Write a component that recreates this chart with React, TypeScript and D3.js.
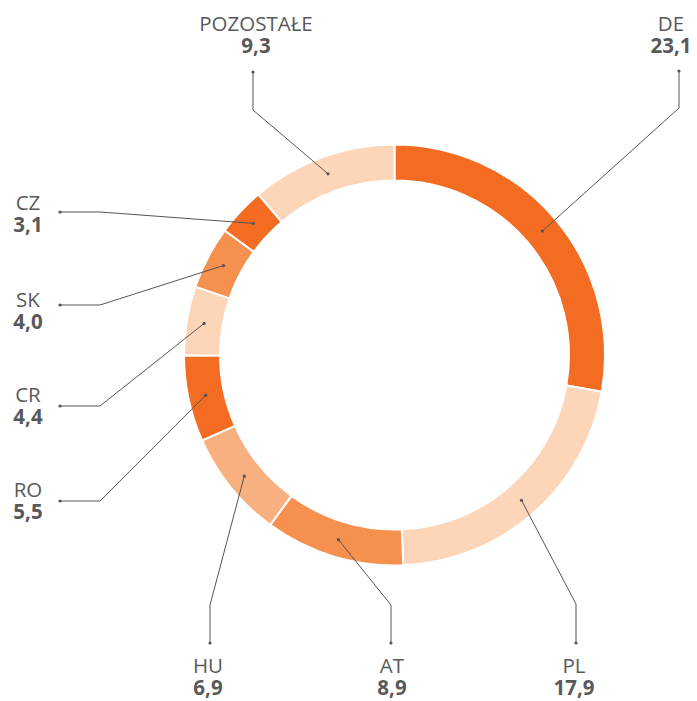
import React from "react";
import * as d3 from "d3";

// Share by country
const countries = ["DE", "PL", "AT", "HU", "RO", "CR", "SK", "CZ", "POZOSTAŁE"];
const shares = [23.1, 17.9, 8.9, 6.9, 5.5, 4.4, 4.0, 3.1, 9.3];
const sliceColors = ["#F36C21", "#FDD5B8", "#F5904F", "#F8B080", "#F36C21", "#FDD5B8", "#F5904F", "#F36C21", "#FDD5B8"];

// Label placement: leader end point, elbow point, and text centre x / name baseline
const labelEnds: [number, number][] = [[679, 71], [576, 643], [391, 643], [210, 643], [60, 501], [60, 406], [60, 305], [60, 212], [253, 72]];
const labelElbows: [number, number][] = [[679, 108], [576, 604], [391, 605], [210, 605], [100, 501], [100, 406], [100, 305], [100, 212], [253, 110]];
const labelText: [number, number][] = [[671, 31], [574, 673], [392, 673], [208, 673], [28, 497], [28, 402], [28, 307], [28, 210], [256, 31]];

const W = 697;
const H = 701;
const cx = 394.5;
const cy = 355;
const outerR = 210.5;
const innerR = 174.5;

const fmt = (v: number) => v.toFixed(1).replace(".", ",");

export default function App() {
  const pie = d3
    .pie<number>()
    .value((d) => d)
    .sort(null);
  const arcs = pie(shares);
  const arc = d3.arc<d3.PieArcDatum<number>>().innerRadius(innerR).outerRadius(outerR);
  const mid = d3.arc<d3.PieArcDatum<number>>().innerRadius(193).outerRadius(193);

  return (
    <svg
      width={W}
      height={H}
      style={{ position: "absolute", left: 0, top: 0, background: "#fff" }}
      fontFamily="'Open Sans', sans-serif"
    >
      <g transform={`translate(${cx},${cy})`}>
        {arcs.map((a, i) => (
          <path key={i} d={arc(a) ?? ""} fill={sliceColors[i]} stroke="#fff" strokeWidth={2} />
        ))}
      </g>
      {arcs.map((a, i) => {
        const [mx, my] = mid.centroid(a);
        const p0: [number, number] = [cx + mx, cy + my];
        const line = d3.line()([p0, labelElbows[i], labelEnds[i]]);
        return (
          <g key={`l${i}`}>
            <path d={line ?? ""} fill="none" stroke="#555" strokeWidth={1} />
            <circle cx={p0[0]} cy={p0[1]} r={1.6} fill="#555" />
            <circle cx={labelEnds[i][0]} cy={labelEnds[i][1]} r={1.6} fill="#555" />
            <text x={labelText[i][0]} y={labelText[i][1]} textAnchor="middle" fontSize={20.5} fill="#58595B">
              {countries[i]}
            </text>
            <text
              x={labelText[i][0]}
              y={labelText[i][1] + 22}
              textAnchor="middle"
              fontSize={20.5}
              fontWeight="bold"
              fill="#58595B"
            >
              {fmt(shares[i])}
            </text>
          </g>
        );
      })}
    </svg>
  );
}
